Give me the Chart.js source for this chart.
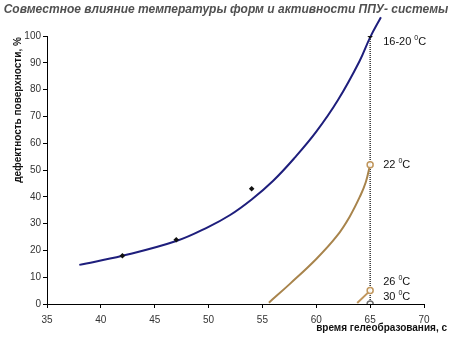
<!DOCTYPE html>
<html>
<head>
<meta charset="utf-8">
<script src="https://cdn.jsdelivr.net/npm/chart.js@4"></script>
<style>
  html, body { margin: 0; padding: 0; background: #fff; }
  #wrap { width: 452px; height: 342px; position: relative; }
</style>
</head>
<body>
<div id="wrap"><canvas id="c" width="452" height="342"></canvas></div>
<script>
// Measured defect share vs. gel time (16-20 °C moulds)
const measuredX = [42, 47, 54, 65];
const measuredY = [18, 24, 43, 100];

// Smoothed trend for 16-20 °C
const trendX = [38, 42, 47, 50, 52, 54, 56, 58, 60, 62, 64, 65, 66];
const trendY = [14.6, 18.0, 23.5, 28.8, 33.2, 39.0, 46.0, 54.6, 64.3, 76.0, 90.5, 99.5, 107];

// 22 °C curve
const curve22X = [55.6, 57.6, 60.0, 61.9, 63.1, 64.1, 64.6, 65];
const curve22Y = [0.5, 7.7, 16.8, 25.3, 32.6, 40.5, 45.5, 52];

// 26 °C curve
const curve26X = [63.8, 65];
const curve26Y = [0.4, 5];

// End points at 65 s for each mould temperature
const endTemps = ['16-20', '22', '26', '30'];
const endX = [65, 65, 65, 65];
const endY = [100, 52, 5, 0];

// Axis ticks
const xTicks = [35, 40, 45, 50, 55, 60, 65, 70];
const yTicks = [0, 10, 20, 30, 40, 50, 60, 70, 80, 90, 100];

const zip = (xs, ys) => xs.map((x, i) => ({ x, y: ys[i] }));

const BLUE = '#1e1e7c';
const TAN = '#a8844c';
const TAN_MARK = '#c0965c';
const GREY_MARK = '#6e6e6e';

const overlay = {
  id: 'overlay',
  afterDraw(chart) {
    const ctx = chart.ctx;
    const xs = chart.scales.x, ys = chart.scales.y;
    ctx.save();
    // title
    ctx.fillStyle = '#505050';
    ctx.font = 'italic bold 12px "Liberation Sans", Arial, sans-serif';
    ctx.textAlign = 'center';
    ctx.textBaseline = 'middle';
    ctx.fillText('Совместное влияние температуры форм и активности ППУ- системы', 226, 10);

    // y axis title
    ctx.fillStyle = '#111';
    ctx.font = 'bold 10px "Liberation Sans", Arial, sans-serif';
    ctx.save();
    ctx.translate(18, 110);
    ctx.rotate(-Math.PI / 2);
    ctx.textAlign = 'center';
    ctx.textBaseline = 'middle';
    ctx.fillText('дефектность поверхности, %', 0, 0);
    ctx.restore();

    // x axis title
    ctx.textAlign = 'right';
    ctx.textBaseline = 'middle';
    ctx.fillText('время гелеобразования, с', 447, 328);

    // temperature labels next to the end points
    const dy = [6, 0, -9, -7];
    ctx.fillStyle = '#111';
    ctx.textAlign = 'left';
    endTemps.forEach((t, i) => {
      const px = xs.getPixelForValue(endX[i]) + 13;
      const py = ys.getPixelForValue(endY[i]) + dy[i];
      ctx.font = '11px "Liberation Sans", Arial, sans-serif';
      const main = t + ' ';
      ctx.fillText(main, px, py);
      let w = ctx.measureText(main).width;
      ctx.font = '7px "Liberation Sans", Arial, sans-serif';
      ctx.fillText('0', px + w, py - 4);
      w += ctx.measureText('0').width;
      ctx.font = '11px "Liberation Sans", Arial, sans-serif';
      ctx.fillText('C', px + w, py);
    });
    ctx.restore();
  }
};

new Chart(document.getElementById('c'), {
  type: 'scatter',
  data: {
    datasets: [
      {
        label: 'vline',
        data: zip([65, 65], [0, 100]),
        showLine: true,
        borderColor: '#000',
        borderWidth: 1.2,
        borderDash: [1, 1],
        pointRadius: 0,
        order: 5
      },
      {
        label: '16-20 trend',
        data: zip(trendX, trendY),
        showLine: true,
        borderColor: BLUE,
        borderWidth: 2,
        tension: 0.4,
        pointRadius: 0,
        clip: false,
        order: 4
      },
      {
        label: '22',
        data: zip(curve22X, curve22Y),
        showLine: true,
        borderColor: TAN,
        borderWidth: 2,
        tension: 0.4,
        pointRadius: 0,
        order: 4
      },
      {
        label: '26',
        data: zip(curve26X, curve26Y),
        showLine: true,
        borderColor: TAN_MARK,
        borderWidth: 2,
        pointRadius: 0,
        order: 4
      },
      {
        label: 'measured',
        data: zip(measuredX, measuredY),
        showLine: false,
        pointStyle: 'rectRot',
        pointRadius: 2.8,
        backgroundColor: '#111',
        borderColor: '#111',
        borderWidth: 0,
        order: 1
      },
      {
        label: 'ends',
        data: zip(endX.slice(1), endY.slice(1)),
        showLine: false,
        pointStyle: 'circle',
        pointRadius: 3,
        backgroundColor: 'rgba(255,255,255,0.9)',
        borderColor: [TAN_MARK, TAN_MARK, GREY_MARK],
        borderWidth: 1.5,
        order: 0
      }
    ]
  },
  options: {
    responsive: false,
    animation: false,
    events: [],
    layout: { padding: { top: 36, right: 28, left: 0, bottom: 0 } },
    plugins: { legend: { display: false }, tooltip: { enabled: false } },
    scales: {
      x: {
        type: 'linear',
        min: 35, max: 70,
        afterBuildTicks: s => { s.ticks = xTicks.map(v => ({ value: v })); },
        afterFit: s => { s.height = 38; },
        grid: { drawOnChartArea: false, color: '#000', tickLength: 4, tickColor: '#000' },
        border: { color: '#000', width: 1 },
        ticks: {
          color: '#333',
          font: { family: '"Liberation Sans", Arial, sans-serif', size: 10 },
          padding: 6,
          maxRotation: 0
        }
      },
      y: {
        min: 0, max: 100,
        afterBuildTicks: s => { s.ticks = yTicks.map(v => ({ value: v })); },
        afterFit: s => { s.width = 47; },
        grid: { drawOnChartArea: false, color: '#000', tickLength: 4, tickColor: '#000' },
        border: { color: '#000', width: 1 },
        ticks: {
          color: '#333',
          font: { family: '"Liberation Sans", Arial, sans-serif', size: 10 },
          padding: 2
        }
      }
    }
  },
  plugins: [overlay]
});
</script>
</body>
</html>
